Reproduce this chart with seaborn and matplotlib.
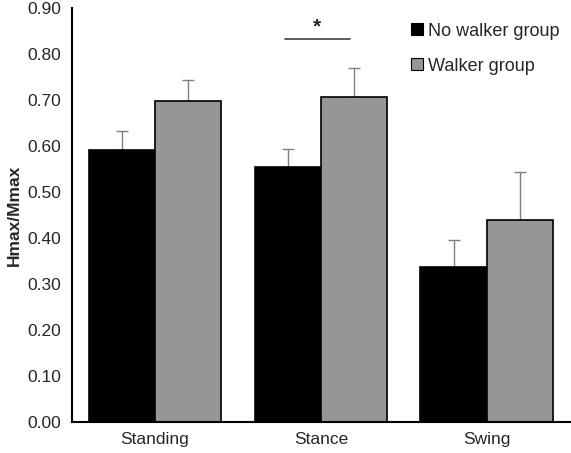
import numpy as np
import pandas as pd
import matplotlib
matplotlib.use("Agg")
import matplotlib.pyplot as plt
import seaborn as sns

# ============================================================
# DATA
# ============================================================
phases = ["Standing", "Stance", "Swing"]
groups = ["No walker group", "Walker group"]
no_walker_mean = [0.590, 0.555, 0.337]
no_walker_err = [0.042, 0.039, 0.058]
walker_mean = [0.697, 0.706, 0.439]
walker_err = [0.045, 0.062, 0.104]
sig_label = "*"

colors = ["#000000", "#969696"]

df = pd.DataFrame({
    "phase": phases * 2,
    "group": [groups[0]] * 3 + [groups[1]] * 3,
    "value": no_walker_mean + walker_mean,
    "err": no_walker_err + walker_err,
})

# ============================================================
# PLOT
# ============================================================
sns.set_style("white")
plt.rcParams["font.family"] = ["Liberation Sans", "DejaVu Sans"]

fig = plt.figure(figsize=(5.71, 4.53), dpi=100)
ax = fig.add_axes([0.126, 0.068, 0.872, 0.915])

sns.barplot(data=df, x="phase", y="value", hue="group", order=phases,
            hue_order=groups, palette=colors, width=0.8, errorbar=None,
            edgecolor="black", linewidth=1.2, ax=ax, legend=False, zorder=2)

# upper error bars from bar positions (drawn behind the bars)
for patch, (_, row) in zip(ax.patches, df.iterrows()):
    cx = patch.get_x() + patch.get_width() / 2
    top = patch.get_height()
    ax.errorbar(cx, top, yerr=[[0], [row["err"]]], fmt="none",
                ecolor="#808080", elinewidth=1, capsize=4, capthick=1, zorder=1)

# significance marker over Stance
stance = phases.index("Stance")
ax.plot([stance - 0.217, stance + 0.175], [0.832, 0.832], color="#404040", lw=1.2)
ax.text(stance - 0.024, 0.858, sig_label, ha="center", va="center",
        fontsize=15, fontweight="bold")

# legend with square markers
handles = [plt.Line2D([], [], marker="s", ls="none", markersize=8.5,
                      markerfacecolor=c, markeredgecolor="black", markeredgewidth=0.8)
           for c in colors]
ax.legend(handles, groups, loc="upper right", bbox_to_anchor=(1.0, 0.99),
          frameon=False, fontsize=13, handletextpad=0.1, labelspacing=1.0,
          handlelength=1.0, borderaxespad=0.2)

ax.set_ylim(0, 0.9)
ax.set_yticks(np.arange(0, 0.91, 0.1))
ax.set_yticklabels([f"{v:.2f}" for v in np.arange(0, 0.91, 0.1)], fontsize=12.5)
ax.set_xlim(-0.5, 2.5)
ax.set_xticks(range(3))
ax.set_xticklabels(phases, fontsize=12.5)
ax.set_xticks([-0.5, 0.5, 1.5, 2.5], minor=True)
ax.tick_params(axis="x", which="major", length=0, pad=7)
ax.tick_params(axis="x", which="minor", length=5, width=1.2, direction="out", color="black")
ax.tick_params(axis="y", length=5, width=1.2, direction="out", color="black", pad=3)
ax.set_xlabel("")
ax.set_ylabel("Hmax/Mmax", fontsize=12.5, fontweight="bold", labelpad=4)

for side in ["top", "right"]:
    ax.spines[side].set_visible(False)
for side in ["left", "bottom"]:
    ax.spines[side].set_color("black")
    ax.spines[side].set_linewidth(1.5)

fig.savefig("out.png", dpi=100)
